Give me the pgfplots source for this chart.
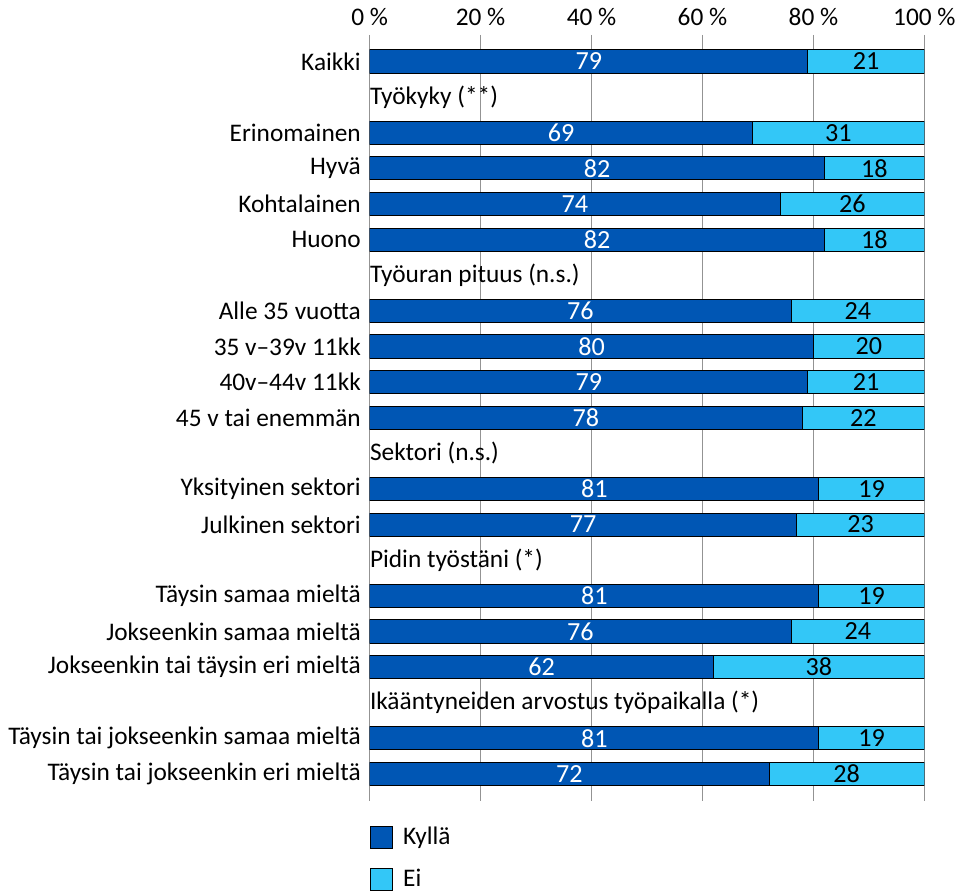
\documentclass[border=0pt]{standalone}
\usepackage{fontspec}
\setmainfont{Carlito}
\usepackage{pgfplots}
\usepackage{pgfplotstable}
\pgfplotsset{compat=1.18}
\definecolor{kylla}{RGB}{0,86,180}
\definecolor{ei}{RGB}{51,199,247}

\pgfplotstableread{
y kylla ei
0 79 21
2 69 31
3 82 18
4 74 26
5 82 18
7 76 24
8 80 20
9 79 21
10 78 22
12 81 19
13 77 23
15 81 19
16 76 24
17 62 38
19 81 19
20 72 28
}\data

\begin{document}
\fontsize{12.6}{15}\selectfont
\begin{tikzpicture}
\begin{axis}[
    xbar stacked,
    scale only axis,
    width=276pt, height=381pt,
    xmin=0, xmax=100,
    ymin=-0.75, ymax=20.75,
    y dir=reverse,
    bar width=0.65,
    axis line style={draw=none},
    major tick length=0pt,
    xtick={0,20,40,60,80,100},
    xticklabels={0 \%,20 \%,40 \%,60 \%,80 \%,100 \%},
    xticklabel pos=upper,
    xmajorgrids,
    grid style={gray!85, line width=0.5pt},
    ytick={0,2,3,4,5,7,8,9,10,12,13,15,16,17,19,20},
    yticklabels={Kaikki,Erinomainen,Hyvä,Kohtalainen,Huono,
        Alle 35 vuotta,35 v–39v 11kk,40v–44v 11kk,45 v tai enemmän,
        Yksityinen sektori,Julkinen sektori,
        Täysin samaa mieltä,Jokseenkin samaa mieltä,Jokseenkin tai täysin eri mieltä,
        Täysin tai jokseenkin samaa mieltä,Täysin tai jokseenkin eri mieltä},
    ticklabel style={font=\fontsize{12.6}{15}\selectfont},
    /pgf/number format/assume math mode=true,
    legend image code/.code={\draw[#1] (0pt,-5.5pt) rectangle (11pt,5.5pt);},
    legend style={at={(axis description cs:0,0)}, anchor=north west,
        draw=none, fill=none, yshift=-11pt, row sep=6pt, inner sep=0pt,
        font=\fontsize{12.6}{15}\selectfont,
        nodes={inner xsep=5pt}},
    legend cell align=left,
]
\addplot[fill=kylla, draw=black, line width=0.5pt,
    nodes near coords, point meta=explicit,
    every node near coord/.style={anchor=center, text=white,
        font=\fontsize{13}{15}\selectfont}]
    table[x=kylla, y=y, meta=kylla] {\data};
\addplot[fill=ei, draw=black, line width=0.5pt,
    nodes near coords, point meta=explicit,
    every node near coord/.style={anchor=center, text=black,
        font=\fontsize{13}{15}\selectfont}]
    table[x=ei, y=y, meta=ei] {\data};
\legend{Kyllä, Ei}
\node[anchor=west, inner sep=0pt] at (axis cs:0,1) {Työkyky (**)};
\node[anchor=west, inner sep=0pt] at (axis cs:0,6) {Työuran pituus (n.s.)};
\node[anchor=west, inner sep=0pt] at (axis cs:0,11) {Sektori (n.s.)};
\node[anchor=west, inner sep=0pt] at (axis cs:0,14) {Pidin työstäni (*)};
\node[anchor=west, inner sep=0pt] at (axis cs:0,18) {Ikääntyneiden arvostus työpaikalla (*)};
\end{axis}
\end{tikzpicture}
\end{document}
